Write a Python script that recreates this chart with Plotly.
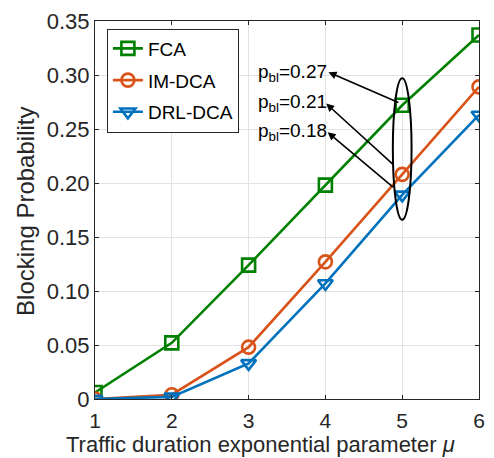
import plotly.graph_objects as go

mu = [1, 2, 3, 4, 5, 6]
fca = [0.006, 0.052, 0.124, 0.198, 0.272, 0.337]
im_dca = [0.0, 0.004, 0.048, 0.127, 0.208, 0.289]
drl_dca = [0.0, 0.002, 0.033, 0.107, 0.189, 0.263]
y_ticks = [0, 0.05, 0.10, 0.15, 0.20, 0.25, 0.30, 0.35]
y_tick_labels = ["0", "0.05", "0.10", "0.15", "0.20", "0.25", "0.30", "0.35"]
labels = ["p<sub>bl</sub>=0.27", "p<sub>bl</sub>=0.21", "p<sub>bl</sub>=0.18"]
x_title = "Traffic duration exponential parameter <i>μ</i>"
y_title = "Blocking Probability"

FONT = "Liberation Sans, Arial, sans-serif"
TXT = "#262626"

fig = go.Figure()
series = [
    ("FCA", fca, "#008000", "square-open"),
    ("IM-DCA", im_dca, "#D95319", "circle-open"),
    ("DRL-DCA", drl_dca, "#0072BD", "triangle-down-open"),
]
for name, ys, col, sym in series:
    fig.add_trace(go.Scatter(
        x=mu, y=ys, name=name, legendgroup=name, mode="lines+markers",
        line=dict(color=col, width=2.6),
        marker=dict(symbol=sym, size=13, color=col, line=dict(color=col, width=2.6)),
    ))

# annotations with arrows
text_pos = [(4.05, 0.302), (4.05, 0.2745), (4.05, 0.247)]
heads = [(4.04, 0.3026), (4.01, 0.2735), (4.03, 0.247)]
tails = [(4.97, 0.274), (4.90, 0.216), (4.90, 0.195)]
for lab, (tx, ty), (hx, hy), (sx, sy) in zip(labels, text_pos, heads, tails):
    fig.add_annotation(x=tx, y=ty, text=lab, showarrow=False, xanchor="right",
                       yanchor="middle", font=dict(size=19, color="black", family=FONT))
    fig.add_annotation(x=hx, y=hy, ax=sx, ay=sy, axref="x", ayref="y",
                       xref="x", yref="y", text="", showarrow=True,
                       arrowhead=2, arrowsize=1, arrowwidth=1.6, arrowcolor="black")

fig.add_shape(type="circle", xref="x", yref="y", x0=4.878, x1=5.122, y0=0.166, y1=0.297,
              line=dict(color="black", width=2))

# axis titles placed as annotations
fig.add_annotation(xref="paper", yref="paper", x=0.43, y=-0.1198, text=x_title,
                   showarrow=False, xanchor="center", yanchor="middle",
                   font=dict(size=22, color=TXT, family=FONT))
fig.add_annotation(xref="paper", yref="paper", x=-0.1795, y=0.495, text=y_title,
                   showarrow=False, xanchor="center", yanchor="middle", textangle=-90,
                   font=dict(size=24, color=TXT, family=FONT))

fig.update_layout(
    width=494, height=458,
    margin=dict(l=95, r=9, t=15, b=59),
    paper_bgcolor="white", plot_bgcolor="white",
    font=dict(family=FONT, color=TXT, size=21),
    showlegend=True,
    legend=dict(x=0.031, y=0.98, xanchor="left", yanchor="top",
                bgcolor="white", bordercolor=TXT, borderwidth=1,
                font=dict(size=19, color="black", family=FONT),
                itemwidth=30, tracegroupgap=4),
    xaxis=dict(range=[1, 6], tickvals=mu, showgrid=True, gridcolor="#e3e3e3",
               showline=True, linecolor=TXT, linewidth=1, mirror="ticks",
               ticks="inside", ticklen=4, tickcolor=TXT, zeroline=False,
               tickfont=dict(size=21, color=TXT), ticklabelstandoff=3),
    yaxis=dict(range=[0, 0.35], tickvals=y_ticks, ticktext=y_tick_labels,
               showgrid=True, gridcolor="#e3e3e3",
               showline=True, linecolor=TXT, linewidth=1, mirror="ticks",
               ticks="inside", ticklen=4, tickcolor=TXT, zeroline=False,
               tickfont=dict(size=22, color=TXT)),
)

fig.write_html("out.html", config={"displayModeBar": False},
               post_script="document.body.style.margin='0';")
